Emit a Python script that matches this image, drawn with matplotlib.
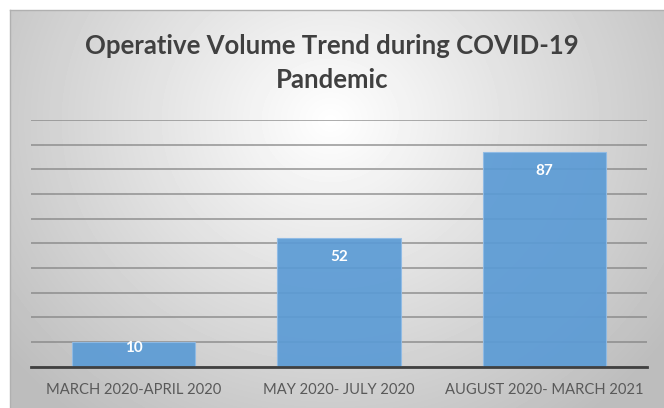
import numpy as np
import matplotlib.pyplot as plt

# data
categories = ["MARCH 2020-APRIL 2020", "MAY 2020- JULY 2020", "AUGUST 2020- MARCH 2021"]
volumes = [10, 52, 87]

plt.rcParams['font.family'] = ['Lato', 'DejaVu Sans']

W, H = 664, 408
fig = plt.figure(figsize=(W / 100, H / 100), dpi=100)
fig.patch.set_facecolor('white')

# panel with radial grey gradient
bg = fig.add_axes([10 / W, 0, (W - 10) / W, (H - 10) / H])
bg.set_axis_off()
yy, xx = np.mgrid[0:398, 0:654]
r = np.hypot((xx - 320) / 400, (yy - 110) / 360)
shade = np.clip(1.0 - 0.25 * r, 0.74, 1.0)
bg.imshow(shade, cmap='gray', vmin=0, vmax=1, aspect='auto', interpolation='bilinear')
fig.add_artist(plt.Line2D([10 / W, 1], [1 - 10 / H, 1 - 10 / H], color='#b0b0b0', lw=1))
fig.add_artist(plt.Line2D([10 / W, 10 / W], [0, 1 - 10 / H], color='#b0b0b0', lw=1))

# plot area
ax = fig.add_axes([31 / W, (H - 366.7) / H, (647 - 31) / W, (366.7 - 120) / H])
ax.patch.set_alpha(0)
x = np.arange(len(categories))
ax.set_xlim(-0.5, 2.5)
ax.set_ylim(0, 100)
ax.set_yticks(np.arange(0, 101, 10))
ax.yaxis.grid(True, color='#808080', lw=1.3, alpha=0.7)
ax.set_axisbelow(True)
bars = ax.bar(x, volumes, width=0.6, color='#5b9bd5', alpha=0.92,
              edgecolor='#8fbbe6', linewidth=0.8, zorder=2)
# value labels just inside the top of each bar
for xi, v in zip(x, volumes):
    ax.text(xi, v - min(7.6, 0.26 * v), str(v), ha='center', va='center', color='white',
            fontsize=11, fontweight='bold', zorder=3)

ax.set_xticks(x)
ax.set_xticklabels(categories, fontsize=10.6, color='#595959')
ax.tick_params(axis='x', length=0, pad=12)
ax.tick_params(axis='y', length=0, labelleft=False)
for side in ['top', 'right', 'left']:
    ax.spines[side].set_visible(False)
ax.spines['bottom'].set_color('#404040')
ax.spines['bottom'].set_linewidth(2)

fig.text(0.5, 1 - 46 / H, "Operative Volume Trend during COVID-19", ha='center', va='center',
         fontsize=18.5, fontweight='bold', color='#404040')
fig.text(0.5, 1 - 80 / H, "Pandemic", ha='center', va='center',
         fontsize=18.5, fontweight='bold', color='#404040')

fig.savefig('out.png', dpi=100)
